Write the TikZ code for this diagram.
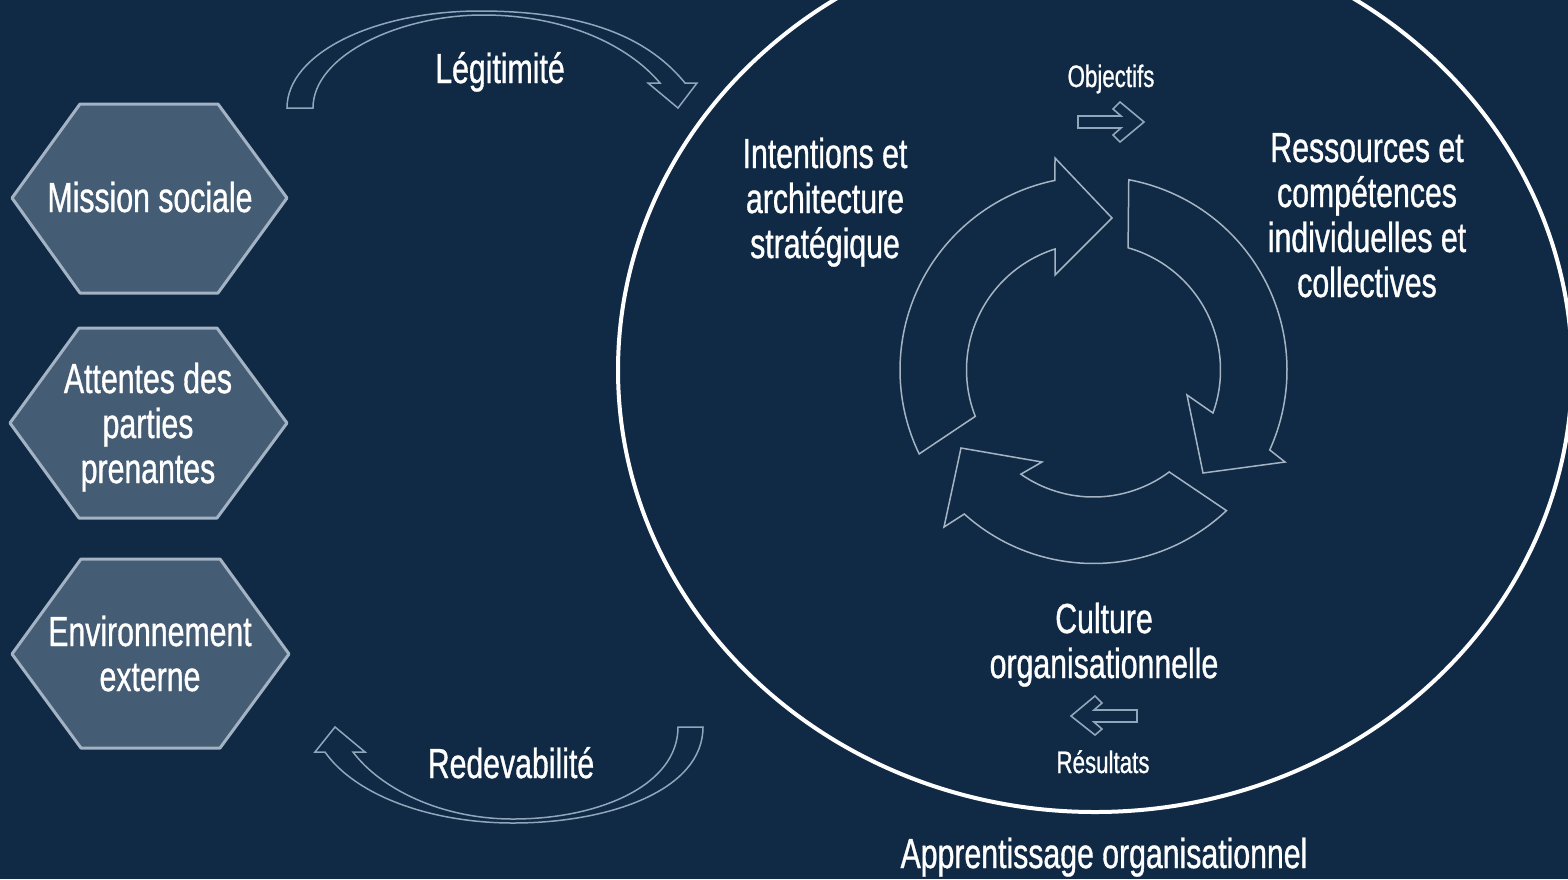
\documentclass[tikz,border=0pt]{standalone}
\usepackage{fontspec}
\setmainfont[FakeStretch=0.72,FakeBold=0.8]{Liberation Sans}
\usetikzlibrary{calc}
\definecolor{bg}{HTML}{102A46}
\definecolor{hexfill}{HTML}{445C74}
\definecolor{hexline}{HTML}{A3B3C3}
\definecolor{arrline}{HTML}{8FA6BB}
\definecolor{cycline}{HTML}{A4B4C3}
\begin{document}
\begin{tikzpicture}[x=1pt,y=-1pt,
  hexa/.style={fill=hexfill,draw=hexline,line width=3pt,line join=round},
  lbl/.style={text=white,align=center,font=\fontsize{42}{45}\selectfont,inner sep=0pt,anchor=base},
  slbl/.style={text=white,align=center,font=\fontsize{31}{34}\selectfont,inner sep=0pt,anchor=base},
  outl/.style={draw=arrline,line width=1.5pt,line join=miter},
  cyc/.style={draw=cycline,line width=1.5pt,line join=miter},
  smallarr/.style={draw=arrline,line width=1.6pt,line join=miter}]
\fill[bg] (0,0) rectangle (1568,879);
\useasboundingbox (0,0) rectangle (1568,879);
\begin{scope}
  \clip (0,0) rectangle (1568,879);
  \draw[white,line width=4pt] (1095,370) ellipse [x radius=477pt,y radius=442pt];
\end{scope}
% hexagons
\draw[hexa] (12,198) -- (80,104) -- (218,104) -- (287,198) -- (218,293) -- (80,293) -- cycle;
\draw[hexa] (10,423) -- (79,328) -- (217,328) -- (287,423) -- (217,518) -- (79,518) -- cycle;
\draw[hexa] (12,654) -- (81,559) -- (220,559) -- (289,654) -- (220,748) -- (81,748) -- cycle;
\node[lbl] (mission) at (150,212) {Mission sociale};
\node[lbl] (attentes) at (148,483) {Attentes des\\parties\\prenantes};
\node[lbl] (env) at (150,691) {Environnement\\externe};
% curved arrows
\draw[outl] (287,108) .. controls (287,54) and (373,11) .. (480,11)
  .. controls (590,11) and (650,40) .. (685,83) -- (697,83) -- (678,108) -- (648,83) -- (660,83)
  .. controls (628,45) and (565,15) .. (483,15)
  .. controls (400,15) and (313,55) .. (313,108) -- cycle;
\node[lbl] (legit) at (500,83) {Légitimité};
\draw[outl] (703,727) .. controls (703,790) and (610,823) .. (513,823)
  .. controls (430,823) and (355,795) .. (325,752) -- (315,752) -- (335,727) -- (365,752) -- (353,752)
  .. controls (380,788) and (440,819) .. (513,819)
  .. controls (600,819) and (678,785) .. (678,727) -- cycle;
\node[lbl] (redev) at (511,778) {Redevabilité};
% cycle
\coordinate (c) at (1093.5,370);
\draw[cyc] ($(c)+(205.7:193.5pt)$) arc[start angle=205.7,end angle=101.5,radius=193.5pt]
  -- (1055,158) -- (1112,218) -- (1055,275)
  -- ($(c)+(107.6:127pt)$) arc[start angle=107.6,end angle=201.4,radius=127pt] -- cycle;
\draw[cyc] ($(c)+(79.5:193.5pt)$) arc[start angle=79.5,end angle=-24.4,radius=193.5pt]
  -- (1285,462) -- (1203,473) -- (1187,395)
  -- ($(c)+(-19.8:127pt)$) arc[start angle=-19.8,end angle=74.2,radius=127pt] -- cycle;
\draw[cyc] ($(c)+(-46.6:193.5pt)$) arc[start angle=-46.6,end angle=-131.9,radius=193.5pt]
  -- (944,527) -- (961,448) -- (1042,462)
  -- ($(c)+(-124.9:127pt)$) arc[start angle=-124.9,end angle=-53.4,radius=127pt] -- cycle;
% small arrows
\draw[smallarr] (1078,116) -- (1121,116) -- (1113,109) -- (1120,102) -- (1144,122) -- (1120,142) -- (1113,135) -- (1121,128) -- (1078,128) -- cycle;
\draw[smallarr] (1137,710) -- (1094,710) -- (1102,703) -- (1095,696) -- (1071,716) -- (1095,735) -- (1102,729) -- (1094,722) -- (1137,722) -- cycle;
% labels
\node[slbl] (obj) at (1111,87) {Objectifs};
\node[slbl] (res) at (1103,773) {Résultats};
\node[lbl] (intent) at (825,258) {Intentions et\\architecture\\stratégique};
\node[lbl] (ressources) at (1367,297) {Ressources et\\compétences\\individuelles et\\collectives};
\node[lbl] (culture) at (1104,678) {Culture\\organisationnelle};
\node[lbl] (appr) at (1104,868) {Apprentissage organisationnel};
\end{tikzpicture}
\end{document}
